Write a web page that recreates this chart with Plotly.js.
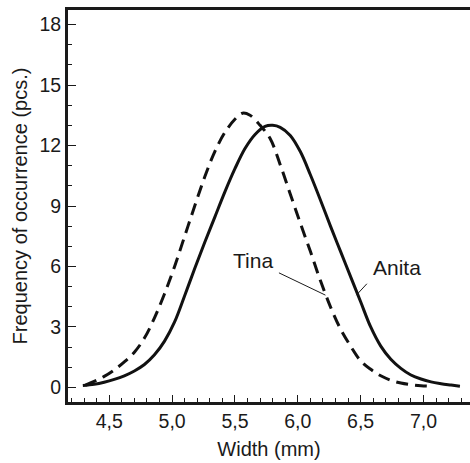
<!DOCTYPE html>
<html>
<head>
<meta charset="utf-8">
<script src="https://cdn.plot.ly/plotly-3.0.1.min.js"></script>
<style>html,body{margin:0;padding:0;background:#fff;}#chart{width:470px;height:463px;}</style>
</head>
<body>
<div id="chart"></div>
<script>
// Anita (solid line)
var anitaX = [4.29, 4.38, 4.46, 4.54, 4.62, 4.70, 4.78, 4.86, 4.94, 5.02, 5.10, 5.18, 5.26, 5.34, 5.42, 5.50, 5.58, 5.66, 5.74, 5.80, 5.86, 5.94, 6.02, 6.10, 6.18, 6.26, 6.34, 6.42, 6.50, 6.58, 6.66, 6.74, 6.82, 6.90, 6.98, 7.06, 7.14, 7.22, 7.29];
var anitaY = [0.10, 0.16, 0.26, 0.40, 0.58, 0.82, 1.14, 1.62, 2.30, 3.25, 4.55, 5.90, 7.20, 8.45, 9.70, 10.85, 11.85, 12.55, 12.95, 13.0, 12.90, 12.50, 11.70, 10.55, 9.30, 8.00, 6.75, 5.50, 4.25, 3.00, 2.05, 1.40, 0.95, 0.62, 0.42, 0.28, 0.19, 0.12, 0.06];
// Tina (dashed line)
var tinaX = [4.31, 4.38, 4.46, 4.54, 4.62, 4.70, 4.78, 4.86, 4.94, 5.02, 5.10, 5.18, 5.26, 5.34, 5.42, 5.50, 5.56, 5.62, 5.70, 5.78, 5.86, 5.94, 6.02, 6.10, 6.18, 6.26, 6.34, 6.42, 6.50, 6.58, 6.66, 6.74, 6.82, 6.90, 6.98, 7.05];
var tinaY = [0.12, 0.30, 0.55, 0.87, 1.27, 1.75, 2.45, 3.45, 4.65, 6.00, 7.50, 9.00, 10.45, 11.70, 12.65, 13.30, 13.60, 13.50, 13.00, 12.35, 11.05, 9.60, 8.15, 6.75, 5.30, 4.00, 2.90, 2.05, 1.32, 0.90, 0.58, 0.36, 0.22, 0.14, 0.09, 0.07];

var xTickVals = [4.5, 5.0, 5.5, 6.0, 6.5, 7.0];
var xTickText = ["4,5", "5,0", "5,5", "6,0", "6,5", "7,0"];
var yTickVals = [0, 3, 6, 9, 12, 15, 18];
var yTickText = ["0", "3", "6", "9", "12", "15", "18"];

var seriesNames = ["Anita", "Tina"];

var FONT = "Liberation Sans, Arial, sans-serif";
var INK = "#1a1a1a";

var traces = [
  {x: anitaX, y: anitaY, mode: "lines", name: seriesNames[0],
   line: {color: "#111", width: 3, shape: "spline", smoothing: 1}},
  {x: tinaX, y: tinaY, mode: "lines", name: seriesNames[1],
   line: {color: "#111", width: 3, shape: "spline", smoothing: 1, dash: "12px,7px"}}
];

var layout = {
  width: 470, height: 463,
  margin: {l: 68, r: 0, t: 10, b: 61},
  paper_bgcolor: "#fff", plot_bgcolor: "#fff",
  showlegend: false,
  font: {family: FONT, color: INK, size: 19},
  xaxis: {
    range: [4.172, 7.37],
    showgrid: false, zeroline: false,
    showline: true, linecolor: INK, linewidth: 3, mirror: true,
    ticks: "inside", ticklen: 7, tickwidth: 1, tickcolor: INK,
    tickvals: xTickVals, ticktext: xTickText,
    tickfont: {family: FONT, size: 19.5, color: INK},
    minor: {dtick: 0.1, tick0: 4.0, ticks: "inside", ticklen: 4, tickwidth: 1, tickcolor: INK, showgrid: false},
    title: {text: "Width (mm)", font: {family: FONT, size: 20, color: INK}, standoff: 11}
  },
  yaxis: {
    range: [-0.72, 18.72],
    showgrid: false, zeroline: false,
    showline: true, linecolor: INK, linewidth: 3, mirror: false,
    ticks: "inside", ticklen: 8, tickwidth: 1, tickcolor: INK,
    tickvals: yTickVals, ticktext: yTickText,
    tickfont: {family: FONT, size: 19.5, color: INK},
    minor: {dtick: 1, tick0: 0, ticks: "inside", ticklen: 4, tickwidth: 1, tickcolor: INK, showgrid: false},
    title: {text: "Frequency of occurrence (pcs.)", font: {family: FONT, size: 20, color: INK}, standoff: 7}
  },
  annotations: [
    {x: 5.64, y: 6.31, xref: "x", yref: "y", text: seriesNames[1], showarrow: false,
     font: {family: FONT, size: 21, color: INK}},
    {x: 6.22, y: 4.58, xref: "x", yref: "y", text: " ", showarrow: true, arrowhead: 0,
     arrowwidth: 1, arrowcolor: INK, ax: -48, ay: -23, font: {size: 1}},
    {x: 6.791, y: 5.96, xref: "x", yref: "y", text: seriesNames[0], showarrow: false,
     font: {family: FONT, size: 21, color: INK}},
    {x: 6.466, y: 4.58, xref: "x", yref: "y", text: " ", showarrow: true, arrowhead: 0,
     arrowwidth: 1, arrowcolor: INK, ax: 12, ay: -13, font: {size: 1}}
  ]
};

Plotly.newPlot("chart", traces, layout, {displayModeBar: false, staticPlot: true});
</script>
</body>
</html>
